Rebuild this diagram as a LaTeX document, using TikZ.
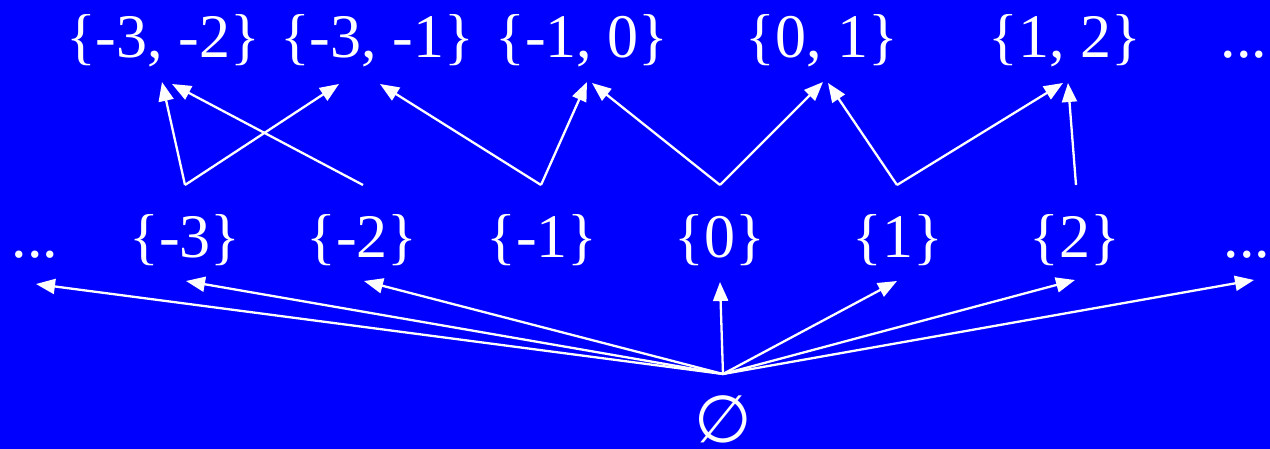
\documentclass[tikz,border=0pt]{standalone}
\usepackage{fontspec}
\setmainfont{Liberation Serif}
\newfontfamily\symfont{DejaVu Sans}
\usetikzlibrary{arrows.meta}
\definecolor{bg}{RGB}{0,0,255}
\begin{document}
\begin{tikzpicture}[x=1pt,y=-1pt,
  lbl/.style={text=white,inner sep=0pt,anchor=base,font=\fontsize{62}{70}\selectfont},
  arr/.style={draw=white,line width=2.3pt,-{Triangle[length=19pt,width=15pt]}}]
\fill[bg] (0,0) rectangle (1270,449);
\useasboundingbox (0,0) rectangle (1270,449);
% top row
\node[lbl] (t1) at (163,58) {\{-3, -2\}};
\node[lbl] (t2) at (377,58) {\{-3, -1\}};
\node[lbl] (t3) at (582,58) {\{-1, 0\}};
\node[lbl] (t4) at (822,58) {\{0, 1\}};
\node[lbl] (t5) at (1065,58) {\{1, 2\}};
\node[lbl] (t6) at (1244,58) {...};
% middle row
\node[lbl] (m0) at (35,258) {...};
\node[lbl] (m1) at (185,258) {\{-3\}};
\node[lbl] (m2) at (362,258) {\{-2\}};
\node[lbl] (m3) at (542,258) {\{-1\}};
\node[lbl] (m4) at (720,258) {\{0\}};
\node[lbl] (m5) at (898,258) {\{1\}};
\node[lbl] (m6) at (1075,258) {\{2\}};
\node[lbl] (m7) at (1247,258) {...};
% empty set
\node[text=white,inner sep=0pt,font=\symfont\fontsize{66}{70}\selectfont] (e) at (723,419) {∅};
% ports
\coordinate (m1u) at (185,185);
\coordinate (m2u) at (363,185);
\coordinate (m3u) at (541,185);
\coordinate (m4u) at (720,185);
\coordinate (m5u) at (897,185);
\coordinate (m6u) at (1076,185);
\coordinate (t1a) at (162,82);
\coordinate (t1b) at (172,84);
\coordinate (t2a) at (339,84);
\coordinate (t2b) at (380,84);
\coordinate (t3a) at (587,82);
\coordinate (t3b) at (592,83);
\coordinate (t4a) at (823,82);
\coordinate (t4b) at (828,83);
\coordinate (t5a) at (1063,83);
\coordinate (t5b) at (1068,83);
\coordinate (eo) at (723,374);
\coordinate (m0d) at (36,284);
\coordinate (m1d) at (186,281);
\coordinate (m2d) at (364,281);
\coordinate (m4d) at (720,282);
\coordinate (m5d) at (897,281);
\coordinate (m6d) at (1075,280);
\coordinate (m7d) at (1254,280);
% top arrows
\draw[arr] (m1u) -- (t1a);
\draw[arr] (m2u) -- (t1b);
\draw[arr] (m1u) -- (t2a);
\draw[arr] (m3u) -- (t2b);
\draw[arr] (m3u) -- (t3a);
\draw[arr] (m4u) -- (t3b);
\draw[arr] (m4u) -- (t4a);
\draw[arr] (m5u) -- (t4b);
\draw[arr] (m5u) -- (t5a);
\draw[arr] (m6u) -- (t5b);
% bottom arrows
\foreach \p in {m0d,m1d,m2d,m4d,m5d,m6d,m7d}
  \draw[arr] (eo) -- (\p);
\end{tikzpicture}
\end{document}
